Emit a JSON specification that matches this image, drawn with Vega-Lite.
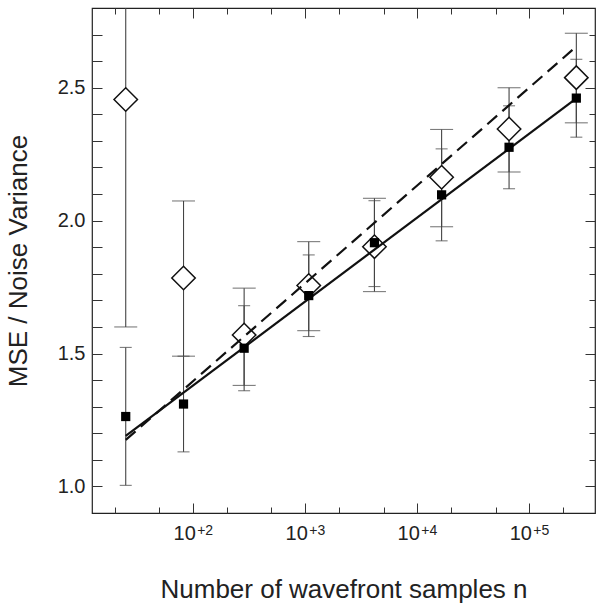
{
  "$schema": "https://vega.github.io/schema/vega-lite/v6.json",
  "width": 503,
  "height": 505,
  "autosize": "none",
  "padding": {"left": 92, "top": 8, "right": 1, "bottom": 93},
  "background": "white",
  "config": {
    "view": {"stroke": "#222", "strokeWidth": 1.2},
    "font": "Liberation Sans"
  },
  "datasets": {
    "pts": [
      {"n": 25, "sq": 1.263, "sqlo": 1.004, "sqhi": 1.523, "dm": 2.456, "dmlo": 1.60, "dmhi": 3.31},
      {"n": 82, "sq": 1.31, "sqlo": 1.13, "sqhi": 1.49, "dm": 1.784, "dmlo": 1.49, "dmhi": 2.074},
      {"n": 285, "sq": 1.52, "sqlo": 1.36, "sqhi": 1.68, "dm": 1.57, "dmlo": 1.38, "dmhi": 1.746},
      {"n": 1075, "sq": 1.718, "sqlo": 1.564, "sqhi": 1.871, "dm": 1.756, "dmlo": 1.586, "dmhi": 1.921},
      {"n": 4150, "sq": 1.917, "sqlo": 1.752, "sqhi": 2.075, "dm": 1.902, "dmlo": 1.733, "dmhi": 2.084},
      {"n": 16500, "sq": 2.097, "sqlo": 1.924, "sqhi": 2.27, "dm": 2.163, "dmlo": 1.977, "dmhi": 2.343},
      {"n": 66000, "sq": 2.276, "sqlo": 2.12, "sqhi": 2.432, "dm": 2.345, "dmlo": 2.183, "dmhi": 2.50},
      {"n": 263000, "sq": 2.461, "sqlo": 2.314, "sqhi": 2.607, "dm": 2.538, "dmlo": 2.368, "dmhi": 2.705}
    ],
    "fit": [
      {"n": 25, "solid": 1.19, "dashed": 1.175},
      {"n": 263000, "solid": 2.46, "dashed": 2.655}
    ]
  },
  "layer": [
    {
      "data": {"name": "pts"},
      "mark": {"type": "rule", "color": "#444", "strokeWidth": 1.1, "clip": true},
      "encoding": {
        "x": {
          "field": "n", "type": "quantitative",
          "scale": {"type": "log", "domain": [12.5, 386000], "nice": false},
          "axis": {
            "orient": "bottom",
            "values": [100, 1000, 10000, 100000],
            "title": "Number of wavefront samples n",
            "titleFontSize": 26, "titleFontWeight": "normal", "titleColor": "#222", "titlePadding": 33,
            "labelExpr": "'10'",
            "labelFontSize": 20, "labelColor": "#222", "labelPadding": 10.5, "labelOffset": -9, "labelOverlap": false, "labelFlush": false, "labelBound": false,
            "domain": false, "grid": false, "ticks": false, "tickSize": 0
          }
        },
        "y": {
          "field": "dmlo", "type": "quantitative",
          "scale": {"domain": [0.9, 2.8], "nice": false, "zero": false},
          "axis": {
            "orient": "left",
            "values": [1, 1.1, 1.2, 1.3, 1.4, 1.5, 1.6, 1.7, 1.8, 1.9, 2, 2.1, 2.2, 2.3, 2.4, 2.5, 2.6, 2.7],
            "title": "MSE / Noise Variance",
            "titleFontSize": 26, "titleFontWeight": "normal", "titleColor": "#222", "titlePadding": 26,
            "labelExpr": "(datum.value == 1 || datum.value == 1.5 || datum.value == 2 || datum.value == 2.5) ? format(datum.value, '.1f') : ''",
            "labelFontSize": 20, "labelColor": "#222", "labelPadding": 17, "labelOverlap": false, "labelFlush": false,
            "domain": false, "grid": false, "tickColor": "#333", "tickWidth": 1, "tickSize": -10
          }
        },
        "y2": {"field": "dmhi"}
      }
    },
    {
      "data": {"name": "pts"},
      "mark": {"type": "rule", "color": "#444", "strokeWidth": 1.1, "clip": true},
      "encoding": {
        "x": {
          "field": "n", "type": "quantitative",
          "axis": {
            "orient": "top",
            "values": [20, 50, 100, 200, 500, 1000, 2000, 5000, 10000, 20000, 50000, 100000, 200000],
            "title": null, "labels": false, "domain": false, "grid": false, "tickColor": "#333", "tickWidth": 1,
            "tickSize": {"condition": {"test": "datum.value == 100 || datum.value == 1000 || datum.value == 10000 || datum.value == 100000", "value": -10}, "value": -6}
          }
        },
        "y": {
          "field": "sqlo", "type": "quantitative",
          "axis": {
            "orient": "right",
            "values": [1, 1.1, 1.2, 1.3, 1.4, 1.5, 1.6, 1.7, 1.8, 1.9, 2, 2.1, 2.2, 2.3, 2.4, 2.5, 2.6, 2.7],
            "title": null, "labels": false, "domain": false, "grid": false, "tickColor": "#333", "tickWidth": 1,
            "tickSize": {"condition": {"test": "datum.value == 1 || datum.value == 1.5 || datum.value == 2 || datum.value == 2.5", "value": -10}, "value": -6}
          }
        },
        "y2": {"field": "sqhi"}
      }
    },
    {
      "data": {"name": "pts"},
      "mark": {"type": "tick", "orient": "horizontal", "size": 23, "thickness": 1.1, "color": "#444", "clip": true},
      "encoding": {
        "x": {
          "field": "n", "type": "quantitative",
          "axis": {
            "orient": "bottom",
            "values": [100, 1000, 10000, 100000],
            "title": null, "ticks": false, "tickSize": 0, "domain": false, "grid": false,
            "labelExpr": "datum.value == 100 ? '+2' : datum.value == 1000 ? '+3' : datum.value == 10000 ? '+4' : '+5'",
            "labelFontSize": 14, "labelColor": "#222", "labelPadding": 10, "labelOffset": 11.5, "labelOverlap": false, "labelFlush": false, "labelBound": false
          }
        },
        "y": {"field": "dmlo", "type": "quantitative", "axis": null}
      }
    },
    {
      "data": {"name": "pts"},
      "mark": {"type": "tick", "orient": "horizontal", "size": 23, "thickness": 1.1, "color": "#444", "clip": true},
      "encoding": {
        "x": {
          "field": "n", "type": "quantitative",
          "axis": {
            "orient": "bottom",
            "values": [20, 50, 100, 200, 500, 1000, 2000, 5000, 10000, 20000, 50000, 100000, 200000],
            "title": null, "labels": false, "domain": false, "grid": false, "tickColor": "#333", "tickWidth": 1,
            "tickSize": {"condition": {"test": "datum.value == 100 || datum.value == 1000 || datum.value == 10000 || datum.value == 100000", "value": -10}, "value": -6}
          }
        },
        "y": {"field": "dmhi", "type": "quantitative", "axis": null}
      }
    },
    {
      "data": {"name": "pts"},
      "mark": {"type": "tick", "orient": "horizontal", "size": 12, "thickness": 1.1, "color": "#444", "clip": true},
      "encoding": {
        "x": {"field": "n", "type": "quantitative", "axis": null},
        "y": {"field": "sqlo", "type": "quantitative", "axis": null}
      }
    },
    {
      "data": {"name": "pts"},
      "mark": {"type": "tick", "orient": "horizontal", "size": 12, "thickness": 1.1, "color": "#444", "clip": true},
      "encoding": {
        "x": {"field": "n", "type": "quantitative", "axis": null},
        "y": {"field": "sqhi", "type": "quantitative", "axis": null}
      }
    },
    {
      "data": {"name": "pts"},
      "mark": {"type": "point", "shape": "diamond", "size": 550, "filled": false, "fill": "white", "fillOpacity": 1, "stroke": "#111", "strokeWidth": 1.5, "opacity": 1},
      "encoding": {
        "x": {"field": "n", "type": "quantitative", "axis": null},
        "y": {"field": "dm", "type": "quantitative", "axis": null}
      }
    },
    {
      "data": {"name": "fit"},
      "mark": {"type": "line", "color": "#111", "strokeWidth": 2.2},
      "encoding": {
        "x": {"field": "n", "type": "quantitative", "axis": null},
        "y": {"field": "solid", "type": "quantitative", "axis": null}
      }
    },
    {
      "data": {"name": "fit"},
      "mark": {"type": "line", "color": "#111", "strokeWidth": 2.2, "strokeDash": [13, 7]},
      "encoding": {
        "x": {"field": "n", "type": "quantitative", "axis": null},
        "y": {"field": "dashed", "type": "quantitative", "axis": null}
      }
    },
    {
      "data": {"name": "pts"},
      "mark": {"type": "square", "size": 85, "color": "#000", "opacity": 1},
      "encoding": {
        "x": {"field": "n", "type": "quantitative", "axis": null},
        "y": {"field": "sq", "type": "quantitative", "axis": null}
      }
    }
  ],
  "resolve": {"axis": {"x": "independent", "y": "independent"}}
}
